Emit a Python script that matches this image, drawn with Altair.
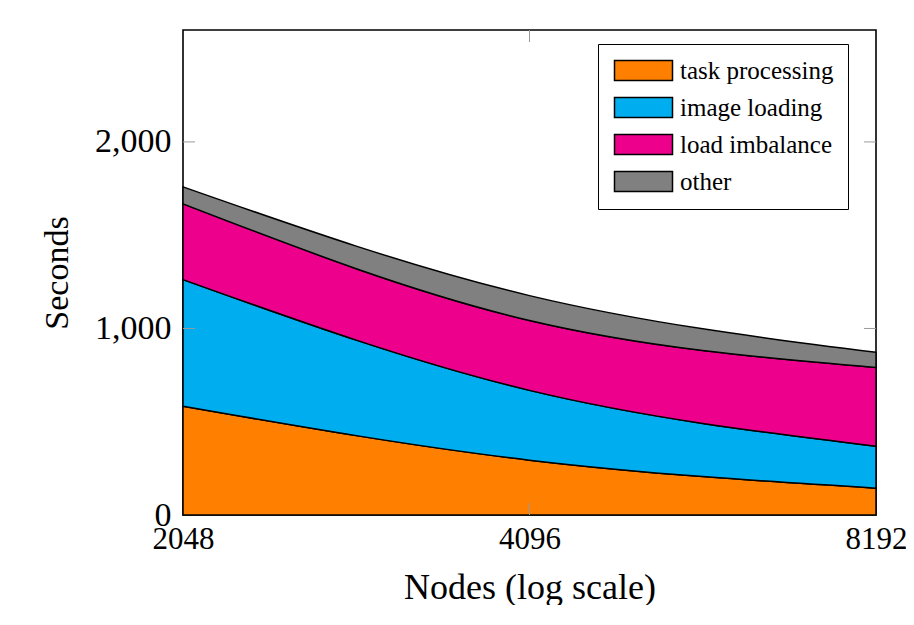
import altair as alt
import pandas as pd

nodes = [2048, 4096, 8192]
categories = ["task processing", "image loading", "load imbalance", "other"]
colors = ["#FF8000", "#00AEEF", "#EC008C", "#808080"]
task_processing = [583, 294, 144]
image_loading = [679, 374, 225]
load_imbalance = [406, 375, 422]
other = [91, 133, 81]

y_ticks = [1000, 2000]
x_ticks = [4096]

series = [task_processing, image_loading, load_imbalance, other]
rows = []
for i, (cat, vals) in enumerate(zip(categories, series)):
    for n, v in zip(nodes, vals):
        rows.append({"Nodes": n, "Seconds": v, "category": cat, "order": i})
df = pd.DataFrame(rows)

FONT = "Liberation Serif"
W, H = 693, 485

xscale = alt.Scale(type="log", domain=[2048, 8192], base=2, nice=False)
yscale = alt.Scale(domain=[0, 2600], nice=False)

area = alt.Chart(df).mark_area(
    interpolate="monotone", stroke="black", strokeWidth=1.5
).encode(
    x=alt.X("Nodes:Q", scale=xscale,
            axis=alt.Axis(values=nodes, title="Nodes (log scale)", format="d",
                          grid=False, domain=False, ticks=False,
                          labelFontSize=31, labelPadding=9, labelFont=FONT,
                          labelColor="black", titleFont=FONT, titleFontSize=36,
                          titleFontWeight="normal", titleColor="black",
                          titlePadding=16, labelFlush=False)),
    y=alt.Y("Seconds:Q", stack="zero", scale=yscale,
            axis=alt.Axis(values=[0, 1000, 2000], format=",.0f", title="Seconds",
                          grid=False, domain=False, ticks=False,
                          labelFontSize=34, labelPadding=12, labelFont=FONT,
                          labelColor="black", titleFont=FONT, titleFontSize=34,
                          titleFontWeight="normal", titleColor="black",
                          titlePadding=20)),
    color=alt.Color("category:N",
                    scale=alt.Scale(domain=categories, range=colors),
                    legend=alt.Legend(
                        title=None, orient="none", legendX=415, legendY=14,
                        symbolType="M-2.9,-1L2.9,-1L2.9,1L-2.9,1Z",
                        symbolSize=400, symbolOffset=19,
                        symbolStrokeColor="black",
                        symbolStrokeWidth=1.5, symbolOpacity=1,
                        labelFont=FONT, labelFontSize=25, labelColor="black",
                        labelLimit=400, rowPadding=10, labelOffset=24,
                        strokeColor="black", fillColor="white",
                        padding=14, cornerRadius=0)),
    order=alt.Order("order:Q"),
)

ytick_df = pd.DataFrame({"v": y_ticks})
xtick_df = pd.DataFrame({"v": x_ticks})

ytl = alt.Chart(ytick_df).mark_rule(color="#999999", strokeWidth=1).encode(
    y=alt.Y("v:Q", scale=yscale), x=alt.value(0), x2=alt.value(12))
ytr = alt.Chart(ytick_df).mark_rule(color="#999999", strokeWidth=1).encode(
    y=alt.Y("v:Q", scale=yscale), x=alt.value(W - 12), x2=alt.value(W))
xtb = alt.Chart(xtick_df).mark_rule(color="#999999", strokeWidth=1).encode(
    x=alt.X("v:Q", scale=xscale), y=alt.value(H - 12), y2=alt.value(H))
xtt = alt.Chart(xtick_df).mark_rule(color="#999999", strokeWidth=1).encode(
    x=alt.X("v:Q", scale=xscale), y=alt.value(0), y2=alt.value(12))

chart = alt.layer(area, ytl, ytr, xtb, xtt).properties(
    width=W, height=H,
    autosize=alt.AutoSizeParams(type="none"),
    padding={"left": 175, "top": 22, "right": 30, "bottom": 90},
).configure(
    background="white",
    view=alt.ViewConfig(stroke="black", strokeWidth=1.6),
)

chart.save("out.html", embed_options={"renderer": "svg", "actions": False})
